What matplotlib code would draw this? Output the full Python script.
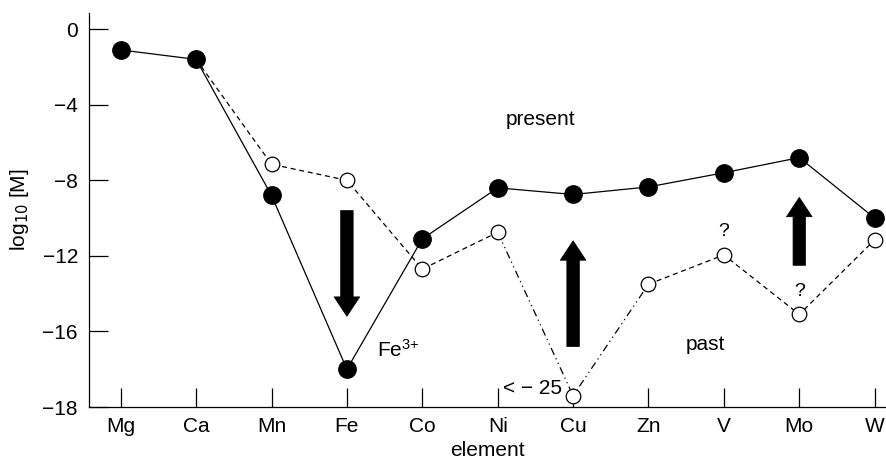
import matplotlib
matplotlib.use("Agg")
import matplotlib.pyplot as plt

plt.rcParams['font.family'] = ['Liberation Sans', 'DejaVu Sans']

elements = ["Mg", "Ca", "Mn", "Fe", "Co", "Ni", "Cu", "Zn", "V", "Mo", "W"]
present = [-1.1, -1.6, -8.8, -18.0, -11.1, -8.4, -8.75, -8.35, -7.6, -6.8, -10.0]
# past values from Ca onwards (Mg shares the present value)
past = [None, -1.6, -7.15, -8.0, -12.7, -10.75, -19.4, -13.5, -11.95, -15.1, -11.15]
# segments of the past curve: (start index, end index, line style)
past_segments = [(1, 5, (0, (4, 3))), (5, 7, (0, (6, 3, 1, 3, 1, 3))), (7, 10, (0, (4, 3)))]

ytick_pos = [0, -4, -8, -12, -16, -20]
ytick_lab = ["0", "\u22124", "\u22128", "\u221212", "\u221216", "\u221218"]

# arrows: x index, tail y, head y
arrows = [(3, -9.6, -15.2), (6, -16.8, -11.2), (9, -12.5, -8.9)]

x = list(range(len(elements)))

fig = plt.figure(figsize=(8.86, 4.68), dpi=100)
ax = fig.add_axes([0.1005, 0.1303, 0.8995, 0.8417])

for a, b, ls in past_segments:
    ax.plot(x[a:b + 1], past[a:b + 1], color="black", lw=0.9, linestyle=ls, zorder=2)
ax.plot(x[2:], past[2:], linestyle="none", marker="o", ms=10.5,
        mfc="white", mec="black", mew=0.9, zorder=3)

ax.plot(x, present, color="black", lw=0.9, marker="o", ms=12.5,
        mfc="black", mec="black", zorder=4)

for xi, y0, y1 in arrows:
    ax.annotate("", xy=(xi, y1), xytext=(xi, y0),
                arrowprops=dict(arrowstyle="simple,head_length=1.4,head_width=1.85,tail_width=0.9",
                                fc="black", ec="black", lw=0.5, shrinkA=0, shrinkB=0),
                zorder=5)

ax.text(5.57, -4.8, "present", fontsize=15, ha="center", va="center")
ax.text(7.75, -16.7, "past", fontsize=15, ha="center", va="center")
ax.text(3.4, -17.0, "$\\mathregular{Fe^{3{+}}}$", fontsize=15, ha="left", va="center")
ax.text(5.07, -19.0, "< \u2212 25", fontsize=15, ha="left", va="center")
ax.text(8, -10.7, "?", fontsize=14, ha="center", va="center")
ax.text(9, -13.9, "?", fontsize=14, ha="center", va="center")

ax.set_xlim(-0.42, 10.15)
ax.set_ylim(-20, 0.85)
ax.set_xticks(x)
ax.set_xticklabels(elements, fontsize=15)
ax.set_yticks(ytick_pos)
ax.set_yticklabels(ytick_lab, fontsize=15)
ax.tick_params(direction="in", length=14, width=0.9)
ax.tick_params(axis="x", pad=7)
ax.tick_params(axis="y", pad=8)
ax.spines["top"].set_visible(False)
ax.spines["right"].set_visible(False)
ax.spines["left"].set_linewidth(0.9)
ax.spines["bottom"].set_linewidth(0.9)

ax.set_xlabel("element", fontsize=15, labelpad=4)
ax.set_ylabel("log$_{10}$ [M]", fontsize=15, labelpad=8)

fig.savefig("out.png", dpi=100)
